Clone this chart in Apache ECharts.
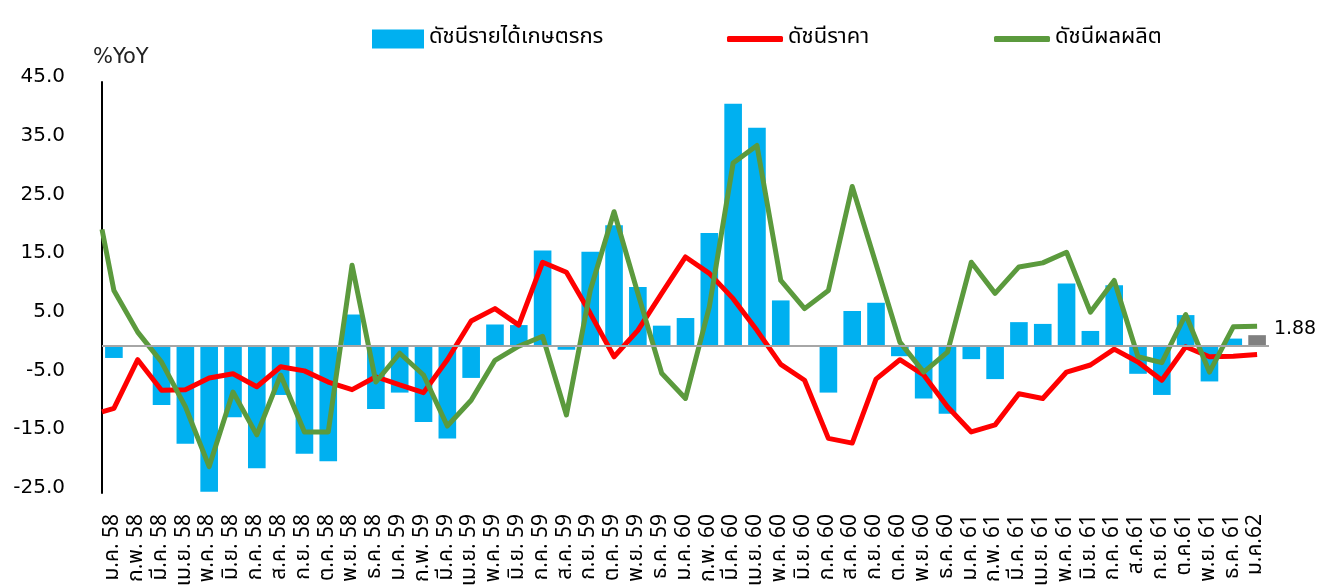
<!DOCTYPE html>
<html>
<head>
<meta charset="utf-8">
<script src="https://cdn.jsdelivr.net/npm/echarts@6/dist/echarts.min.js"></script>
<style>
html,body{margin:0;padding:0;background:#fff;}
#chart{width:1328px;height:585px;}
</style>
</head>
<body>
<div id="chart"></div>
<script>
const categories = [
  'ม.ค. 58','ก.พ. 58','มี.ค. 58','เม.ย. 58','พ.ค. 58','มิ.ย. 58','ก.ค. 58','ส.ค. 58','ก.ย. 58','ต.ค. 58','พ.ย. 58','ธ.ค. 58',
  'ม.ค. 59','ก.พ. 59','มี.ค. 59','เม.ย. 59','พ.ค. 59','มิ.ย. 59','ก.ค. 59','ส.ค. 59','ก.ย. 59','ต.ค. 59','พ.ย. 59','ธ.ค. 59',
  'ม.ค. 60','ก.พ. 60','มี.ค. 60','เม.ย. 60','พ.ค. 60','มิ.ย. 60','ก.ค. 60','ส.ค. 60','ก.ย. 60','ต.ค. 60','พ.ย. 60','ธ.ค. 60',
  'ม.ค. 61','ก.พ. 61','มี.ค. 61','เม.ย. 61','พ.ค. 61','มิ.ย. 61','ก.ค. 61','ส.ค.61','ก.ย. 61','ต.ค.61','พ.ย. 61','ธ.ค. 61',
  'ม.ค.62'
];
const seriesNames = ['ดัชนีรายได้เกษตรกร', 'ดัชนีราคา', 'ดัชนีผลผลิต'];
const incomeIndex = [-2.0, 0.0, -10.0, -16.6, -24.8, -12.1, -20.8, -8.3, -18.3, -19.6, 5.4, -10.7,
  -7.9, -12.9, -15.7, -5.4, 3.7, 3.6, 16.3, -0.6, 16.1, 20.6, 10.1, 3.5,
  4.8, 19.3, 41.3, 37.2, 7.8, 0.2, -7.9, 6.0, 7.4, -1.7, -8.9, -11.5,
  -2.2, -5.6, 4.1, 3.8, 10.7, 2.6, 10.4, -4.7, -8.3, 5.3, -6.0, 1.3,
  1.88];
// value where each line enters the plot at its left edge (half a month before the first category)
const priceEdge = -11.2;
const priceIndex = [-10.6, -2.3, -7.5, -7.4, -5.4, -4.7, -6.9, -3.5, -4.2, -6.1, -7.4, -5.2,
  -6.6, -7.9, -2.3, 4.3, 6.4, 3.6, 14.3, 12.6, 5.6, -1.8, 2.7, 9.0,
  15.2, 12.4, 8.1, 2.7, -3.1, -5.8, -15.7, -16.5, -5.6, -2.3, -4.9, -10.3,
  -14.6, -13.4, -8.1, -8.9, -4.4, -3.2, -0.5, -2.7, -5.8, -0.1, -1.8, -1.7,
  -1.4];
const productionEdge = 19.9;
const productionIndex = [9.5, 2.4, -2.7, -10.3, -20.5, -7.8, -15.1, -4.9, -14.6, -14.6, 13.8, -6.1,
  -1.2, -4.9, -13.6, -9.2, -2.4, 0.0, 1.7, -11.7, 9.5, 22.9, 9.0, -4.6,
  -8.9, 6.7, 31.2, 34.2, 11.2, 6.4, 9.5, 27.2, 14.0, 0.7, -4.4, -1.0,
  14.3, 9.0, 13.5, 14.2, 16.0, 5.8, 11.2, -1.8, -2.8, 5.4, -4.4, 3.3,
  3.4];
const yUnit = '%YoY';

const thaiFont = "Tahoma, 'Noto Sans Thai', 'Noto Sans', 'DejaVu Sans', sans-serif";
const numFont = "'DejaVu Sans', Tahoma, sans-serif";

function withEdge(edge, arr) {
  const out = [[-0.5, edge]];
  arr.forEach((v, i) => out.push([i, v]));
  return out;
}

const lastIdx = incomeIndex.length - 1;
const barData = incomeIndex.map((v, i) => i === lastIdx ? {
  value: v,
  itemStyle: { color: '#808080' },
  label: {
    show: true, position: 'right', distance: 8, offset: [0, -12],
    formatter: () => v.toFixed(2), fontSize: 19, color: '#000', fontFamily: numFont
  }
} : v);

const legendText = { fontSize: 22, color: '#000', fontFamily: thaiFont };

const chart = echarts.init(document.getElementById('chart'), null, { renderer: 'canvas' });
chart.setOption({
  animation: false,
  backgroundColor: '#ffffff',
  grid: { left: 102, right: 59, top: 82, bottom: 92, containLabel: false, outerBoundsMode: 'none' },
  legend: [
    { data: [seriesNames[0]], left: 367, top: 23, icon: 'rect', itemWidth: 52, itemHeight: 19,
      itemGap: 0, textStyle: legendText, selectedMode: false },
    { data: [seriesNames[1]], left: 722, top: 23, icon: 'roundRect', itemWidth: 56, itemHeight: 6,
      itemStyle: { color: '#FF0000' }, textStyle: legendText, selectedMode: false },
    { data: [seriesNames[2]], left: 989, top: 23, icon: 'roundRect', itemWidth: 56, itemHeight: 6,
      itemStyle: { color: '#5B9A3D' }, textStyle: legendText, selectedMode: false }
  ],
  graphic: [{
    type: 'text', left: 93, top: 47,
    style: { text: yUnit, fontSize: 21, fill: '#222', fontFamily: numFont }
  }],
  xAxis: [
    {
      type: 'category', data: categories, boundaryGap: true,
      axisLine: { show: false }, axisTick: { show: false },
      axisLabel: { interval: 0, rotate: 90, margin: 21, fontSize: 21, color: '#000', fontFamily: thaiFont },
      splitLine: { show: false }
    },
    {
      type: 'value', min: -0.5, max: lastIdx + 0.5, show: false,
      axisLine: { show: false }, splitLine: { show: false }
    }
  ],
  yAxis: {
    type: 'value', min: -25, max: 45, interval: 10,
    axisLine: { show: true, onZero: false, lineStyle: { color: '#000', width: 2 } },
    axisTick: { show: false },
    splitLine: { show: false },
    axisLabel: {
      margin: 37, fontSize: 20, color: '#000', fontFamily: numFont,
      verticalAlign: 'bottom', lineHeight: 10,
      formatter: v => v.toFixed(1)
    }
  },
  series: [
    {
      name: seriesNames[0], type: 'bar', xAxisIndex: 0, data: barData,
      barWidth: '74%', itemStyle: { color: '#00B0F0' },
      markLine: {
        silent: true, symbol: 'none', label: { show: false },
        lineStyle: { color: '#a6a6a6', width: 2, type: 'solid' },
        data: [{ yAxis: 0 }]
      }
    },
    {
      name: seriesNames[1], type: 'line', xAxisIndex: 1, data: withEdge(priceEdge, priceIndex),
      symbol: 'none', clip: true, itemStyle: { color: '#FF0000' },
      lineStyle: { color: '#FF0000', width: 5, join: 'round', cap: 'butt' }
    },
    {
      name: seriesNames[2], type: 'line', xAxisIndex: 1, data: withEdge(productionEdge, productionIndex),
      symbol: 'none', clip: true, itemStyle: { color: '#5B9A3D' },
      lineStyle: { color: '#5B9A3D', width: 5, join: 'round', cap: 'butt' }
    }
  ]
});
</script>
</body>
</html>
